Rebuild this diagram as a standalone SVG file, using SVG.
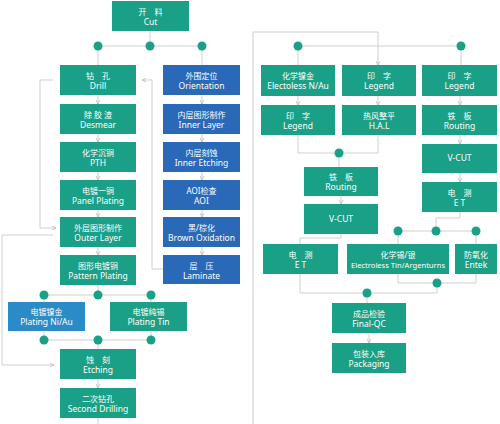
<svg xmlns="http://www.w3.org/2000/svg" width="500" height="424" viewBox="0 0 500 424">
<style>
.t{fill:#1aa086}.b{fill:#2a68b8}.c{fill:#2a8bc6}
text{fill:#fff;font-family:"Noto Sans","Noto Sans CJK SC",sans-serif;text-anchor:middle}
.z{font-size:8px}.e{font-size:8.5px}
.ln{fill:none;stroke:#cfcfcf;stroke-width:1}
.dot{fill:#1aa086}
</style>
<defs>
<marker id="ar" viewBox="0 0 6 6" refX="5" refY="3" markerWidth="5" markerHeight="5" orient="auto" markerUnits="userSpaceOnUse">
<path d="M0,0.5 L5,3 L0,5.5" fill="none" stroke="#bdbdbd" stroke-width="1"/>
</marker>
</defs>
<rect width="500" height="424" fill="#fff"/>
<g id="connectors">
<path class="ln" d="M150,31V46M98,46H202M98,46V65M202,46V65"/>
<path class="ln" marker-end="url(#ar)" d="M98,96V104"/>
<path class="ln" marker-end="url(#ar)" d="M98,134V142"/>
<path class="ln" marker-end="url(#ar)" d="M98,172V180"/>
<path class="ln" marker-end="url(#ar)" d="M98,210V217"/>
<path class="ln" marker-end="url(#ar)" d="M98,247V255"/>
<path class="ln" marker-end="url(#ar)" d="M202,96V104"/>
<path class="ln" marker-end="url(#ar)" d="M202,134V142"/>
<path class="ln" marker-end="url(#ar)" d="M202,172V180"/>
<path class="ln" marker-end="url(#ar)" d="M202,210V217"/>
<path class="ln" marker-end="url(#ar)" d="M202,247V255"/>
<path class="ln" d="M98,285V295M44,295H151M44,295V302M151,295V302M44,331V340M151,331V340M44,340H151M98,340V349"/>
<path class="ln" marker-end="url(#ar)" d="M98,379V388"/>
<path class="ln" d="M98,418V424"/>
<path class="ln" marker-end="url(#ar)" d="M53,80H40V228H56"/>
<path class="ln" marker-end="url(#ar)" d="M163,269H152V80H142"/>
<path class="ln" marker-end="url(#ar)" d="M53,235H2V365H54"/>
<path class="ln" marker-end="url(#ar)" d="M253,424V32H378V65"/>
<path class="ln" d="M298,46H461M298,46V65M461,46V65"/>
<path class="ln" marker-end="url(#ar)" d="M298,96V105"/>
<path class="ln" marker-end="url(#ar)" d="M378,96V105"/>
<path class="ln" marker-end="url(#ar)" d="M460,96V105"/>
<path class="ln" d="M298,135V153H378V135M339,153V167"/>
<path class="ln" marker-end="url(#ar)" d="M341,196V204"/>
<path class="ln" d="M341,234V238H300V244"/>
<path class="ln" marker-end="url(#ar)" d="M460,135V144"/>
<path class="ln" marker-end="url(#ar)" d="M460,173V182"/>
<path class="ln" d="M460,212V218H436V231M398,231H476M398,231V244M476,231V244"/>
<path class="ln" d="M398,274V283H476V274M437,283V293M300,274V293H437M367,293V303"/>
<path class="ln" marker-end="url(#ar)" d="M369,333V343"/>
<circle class="dot" cx="98" cy="46" r="4.5"/>
<circle class="dot" cx="150" cy="46" r="4.5"/>
<circle class="dot" cx="202" cy="46" r="4.5"/>
<circle class="dot" cx="44" cy="295" r="4.5"/>
<circle class="dot" cx="98" cy="295" r="4.5"/>
<circle class="dot" cx="151" cy="295" r="4.5"/>
<circle class="dot" cx="44" cy="340" r="4.5"/>
<circle class="dot" cx="98" cy="340" r="4.5"/>
<circle class="dot" cx="151" cy="340" r="4.5"/>
<circle class="dot" cx="298" cy="46" r="4.5"/>
<circle class="dot" cx="461" cy="46" r="4.5"/>
<circle class="dot" cx="339" cy="153" r="4.5"/>
<circle class="dot" cx="398" cy="231" r="4.5"/>
<circle class="dot" cx="436" cy="231" r="4.5"/>
<circle class="dot" cx="476" cy="231" r="4.5"/>
<circle class="dot" cx="437" cy="283" r="4.5"/>
<circle class="dot" cx="367" cy="293" r="4.5"/>
</g>
<g id="n-cut"><rect class="t" x="112" y="1" width="77" height="30"/><text class="z" x="150.5" y="15">开　料</text><text class="e" x="150.5" y="25">Cut</text></g>
<g id="n-drill"><rect class="t" x="60" y="65" width="76" height="30"/><text class="z" x="98" y="79">钻　孔</text><text class="e" x="98" y="89">Drill</text></g>
<g id="n-desmear"><rect class="t" x="60" y="104" width="76" height="30"/><text class="z" x="98" y="118">除 胶 渣</text><text class="e" x="98" y="128">Desmear</text></g>
<g id="n-pth"><rect class="t" x="60" y="142" width="76" height="30"/><text class="z" x="98" y="156">化学沉铜</text><text class="e" x="98" y="166">PTH</text></g>
<g id="n-panel"><rect class="t" x="60" y="180" width="76" height="30"/><text class="z" x="98" y="194">电镀一铜</text><text class="e" x="98" y="204">Panel Plating</text></g>
<g id="n-outer"><rect class="t" x="60" y="217" width="76" height="30"/><text class="z" x="98" y="231">外层图形制作</text><text class="e" x="98" y="241">Outer Layer</text></g>
<g id="n-pattern"><rect class="t" x="60" y="255" width="76" height="30"/><text class="z" x="98" y="269">图形电镀铜</text><text class="e" x="98" y="279">Pattern Plating</text></g>
<g id="n-orient"><rect class="b" x="163" y="65" width="77" height="30"/><text class="z" x="201.5" y="79">外围定位</text><text class="e" x="201.5" y="89">Orientation</text></g>
<g id="n-inner"><rect class="b" x="163" y="104" width="77" height="30"/><text class="z" x="201.5" y="118">内层图形制作</text><text class="e" x="201.5" y="128">Inner Layer</text></g>
<g id="n-inneretch"><rect class="b" x="163" y="142" width="77" height="30"/><text class="z" x="201.5" y="156">内层刻蚀</text><text class="e" x="201.5" y="166">Inner Etching</text></g>
<g id="n-aoi"><rect class="b" x="163" y="180" width="77" height="30"/><text class="z" x="201.5" y="194">AOI检查</text><text class="e" x="201.5" y="204">AOI</text></g>
<g id="n-brown"><rect class="b" x="163" y="217" width="77" height="30"/><text class="z" x="201.5" y="231">黑/棕化</text><text class="e" x="201.5" y="241">Brown Oxidation</text></g>
<g id="n-laminate"><rect class="b" x="163" y="255" width="77" height="29"/><text class="z" x="201.5" y="269">层　压</text><text class="e" x="201.5" y="279">Laminate</text></g>
<g id="n-niau"><rect class="c" x="8" y="302" width="77" height="29"/><text class="z" x="46.5" y="315">电镀镍金</text><text class="e" x="46.5" y="325">Plating Ni/Au</text></g>
<g id="n-tin"><rect class="t" x="110" y="302" width="77" height="29"/><text class="z" x="148.5" y="315">电镀纯锡</text><text class="e" x="148.5" y="325">Plating Tin</text></g>
<g id="n-etching"><rect class="t" x="60" y="349" width="76" height="30"/><text class="z" x="98" y="363">蚀　刻</text><text class="e" x="98" y="373">Etching</text></g>
<g id="n-second"><rect class="t" x="60" y="388" width="76" height="30"/><text class="z" x="98" y="402">二次钻孔</text><text class="e" x="98" y="412">Second Drilling</text></g>
<g id="n-electoless"><rect class="t" x="261" y="65" width="74" height="31"/><text class="z" x="298" y="79">化学镍金</text><text class="e" x="298" y="89">Electoless N/Au</text></g>
<g id="n-legend2"><rect class="t" x="342" y="65" width="74" height="31"/><text class="z" x="379" y="79">印　字</text><text class="e" x="379" y="89">Legend</text></g>
<g id="n-legend3"><rect class="t" x="422" y="65" width="75" height="31"/><text class="z" x="459.5" y="79">印　字</text><text class="e" x="459.5" y="89">Legend</text></g>
<g id="n-legend1"><rect class="t" x="261" y="105" width="74" height="30"/><text class="z" x="298" y="119">印　字</text><text class="e" x="298" y="129">Legend</text></g>
<g id="n-hal"><rect class="t" x="342" y="105" width="74" height="30"/><text class="z" x="379" y="119">热风整平</text><text class="e" x="379" y="129">H.A.L</text></g>
<g id="n-routing3"><rect class="t" x="422" y="105" width="75" height="30"/><text class="z" x="459.5" y="119">铁　板</text><text class="e" x="459.5" y="129">Routing</text></g>
<g id="n-routing"><rect class="t" x="304" y="167" width="74" height="29"/><text class="z" x="341" y="180">铁　板</text><text class="e" x="341" y="190">Routing</text></g>
<g id="n-vcut"><rect class="t" x="304" y="204" width="74" height="30"/><text class="e" x="341" y="222">V-CUT</text></g>
<g id="n-vcut3"><rect class="t" x="422" y="144" width="75" height="29"/><text class="e" x="459.5" y="161">V-CUT</text></g>
<g id="n-et3"><rect class="t" x="422" y="182" width="75" height="30"/><text class="z" x="459.5" y="196">电　测</text><text class="e" x="459.5" y="206">E T</text></g>
<g id="n-et"><rect class="t" x="263" y="244" width="75" height="30"/><text class="z" x="300.5" y="258">电　测</text><text class="e" x="300.5" y="268">E T</text></g>
<g id="n-eltin"><rect class="t" x="347" y="244" width="102" height="30"/><text class="z" x="398" y="258">化学锡/银</text><text class="e" x="398" y="268" style="font-size:7.6px">Electroless Tin/Argenturns</text></g>
<g id="n-entek"><rect class="t" x="455" y="244" width="42" height="30"/><text class="z" x="476" y="258">防氧化</text><text class="e" x="476" y="268">Entek</text></g>
<g id="n-finalqc"><rect class="t" x="332" y="303" width="74" height="30"/><text class="z" x="369" y="317">成品检验</text><text class="e" x="369" y="327">Final-QC</text></g>
<g id="n-pack"><rect class="t" x="332" y="343" width="74" height="30"/><text class="z" x="369" y="357">包装入库</text><text class="e" x="369" y="367">Packaging</text></g>
</svg>
